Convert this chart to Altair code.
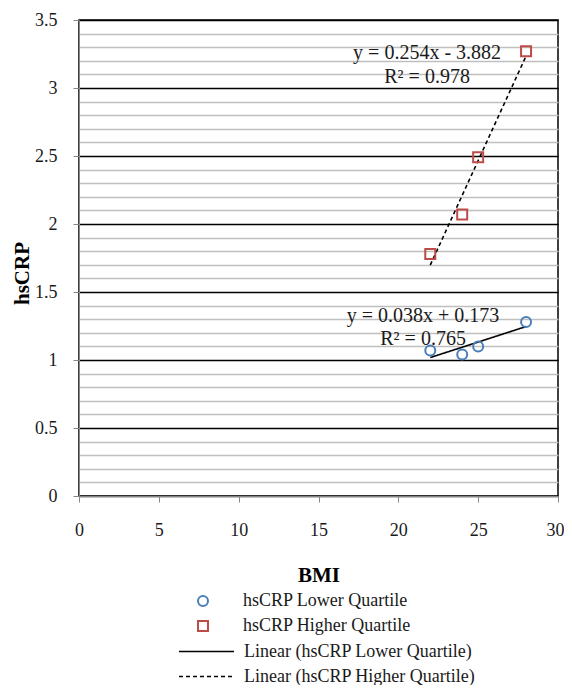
import altair as alt
import pandas as pd

# ---- data ----
bmi = [22, 24, 25, 28]
lower_q = [1.07, 1.04, 1.10, 1.28]
higher_q = [1.78, 2.07, 2.49, 3.27]
series_names = ["hsCRP Lower Quartile", "hsCRP Higher Quartile"]
trend_names = ["Linear (hsCRP Lower Quartile)", "Linear (hsCRP Higher Quartile)"]
x_ticks = [0, 5, 10, 15, 20, 25, 30]
y_ticks = [round(i * 0.1, 1) for i in range(36)]

eq_text = ["y = 0.254x - 3.882", "R² = 0.978", "y = 0.038x + 0.173", "R² = 0.765"]
eq_x = [21.8, 21.8, 21.55, 21.55]
eq_y = [3.257, 3.081, 1.324, 1.154]

rows = []
for b, v in zip(bmi, lower_q):
    rows.append({"BMI": b, "hsCRP": v, "series": series_names[0]})
for b, v in zip(bmi, higher_q):
    rows.append({"BMI": b, "hsCRP": v, "series": series_names[1]})
df = pd.DataFrame(rows)
df_eq = pd.DataFrame({"text": eq_text, "x": eq_x, "y": eq_y})

FONT = "Liberation Serif"
TXT = "#1a1a1a"
major_test = "abs(datum.value*2 - round(datum.value*2)) < 0.001"
last_test = "datum.value >= 30"

xscale = alt.Scale(domain=[0, 30], nice=False)
yscale = alt.Scale(domain=[0, 3.5], nice=False)

xaxis = alt.Axis(values=x_ticks, grid=False, title="BMI", titleFont=FONT,
                 titleFontSize=21, titleFontWeight="bold", titleColor="black",
                 titlePadding=25, labelFont=FONT, labelFontSize=18, labelColor=TXT,
                 labelPadding=19, tickSize=6, labelFlush=False,
                 labelAlign={"condition": {"test": last_test, "value": "right"}, "value": "center"},
                 labelOffset={"condition": {"test": last_test, "value": 6}, "value": 0},
                 domainColor="#868686", tickColor="#868686")
yaxis = alt.Axis(values=y_ticks, grid=True,
                 gridColor={"condition": {"test": major_test, "value": "black"}, "value": "#bfbfbf"},
                 gridWidth=1.5,
                 tickOpacity={"condition": {"test": major_test, "value": 1}, "value": 0},
                 labelExpr=f"{major_test} ? format(datum.value, '~g') : ''",
                 labelOverlap=False, labelFlush=False,
                 title="hsCRP", titleFont=FONT, titleFontSize=21, titleFontWeight="bold",
                 titleColor="black", titleX=-51, titleY=253, titleAngle=270,
                 titleBaseline="alphabetic", titleAlign="center",
                 labelFont=FONT, labelFontSize=18, labelColor=TXT, labelPadding=16,
                 tickSize=6, domainColor="#868686", tickColor="#868686")

X = alt.X("BMI:Q", scale=xscale, axis=xaxis)
Y = alt.Y("hsCRP:Q", scale=yscale, axis=yaxis)

base = alt.Chart(df)

leg1 = dict(orient="none", legendX=115, legendY=572, title=None,
            labelFont=FONT, labelFontSize=18, labelColor=TXT,
            labelOffset=31, rowPadding=7, padding=0, labelLimit=0,
            symbolStrokeWidth=2, symbolSize=100)

points = base.mark_point(filled=False, strokeWidth=2, size=100, opacity=1).encode(
    x=X, y=Y,
    shape=alt.Shape("series:N", scale=alt.Scale(domain=series_names, range=["circle", "square"]),
                    legend=alt.Legend(**leg1)),
    color=alt.Color("series:N", scale=alt.Scale(domain=series_names, range=["#4a7ebb", "#be4b48"]),
                    legend=alt.Legend(**leg1)),
)


def trend_layer(idx, dash, legend_y):
    return base.transform_filter(
        alt.datum.series == series_names[idx]
    ).transform_regression("BMI", "hsCRP", groupby=["series"]).transform_calculate(
        trend="'Linear (' + datum.series + ')'"
    ).mark_line(color="black", strokeWidth=1.6).encode(
        x=X, y=Y,
        strokeDash=alt.StrokeDash(
            "trend:N",
            scale=alt.Scale(domain=[trend_names[idx]], range=[dash]),
            legend=alt.Legend(orient="none", legendX=99, legendY=legend_y, title=None,
                              labelFont=FONT, labelFontSize=18, labelColor=TXT,
                              labelOffset=9, padding=0, labelLimit=0,
                              symbolType="stroke", symbolSize=3025,
                              symbolStrokeColor="black", symbolStrokeWidth=1.6)),
    )


trend_lo = trend_layer(0, [1, 0], 603)
trend_hi = trend_layer(1, [4, 3], 628)

eqs = alt.Chart(df_eq).mark_text(font=FONT, fontSize=20, color=TXT).encode(
    x=alt.X("x:Q", scale=xscale, axis=xaxis),
    y=alt.Y("y:Q", scale=yscale, axis=yaxis),
    text="text:N",
)

chart = alt.layer(trend_lo, trend_hi, points, eqs).resolve_scale(
    strokeDash="independent"
).resolve_legend(strokeDash="independent").properties(
    width=479, height=476,
    autosize=alt.AutoSizeParams(type="none"),
    padding={"left": 71, "top": 12, "right": 6, "bottom": 189},
).configure_view(stroke="black", strokeWidth=1.5)

chart.save("out.html", embed_options={"renderer": "svg", "actions": False})
